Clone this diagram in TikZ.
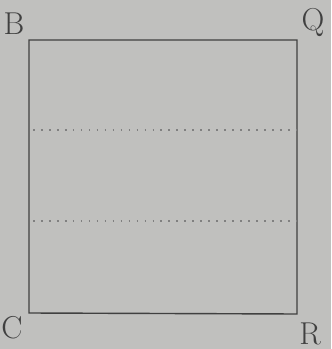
\documentclass[tikz,border=0pt]{standalone}
\begin{document}
\begin{tikzpicture}[x=0.03cm,y=-0.03cm,
  edge/.style={draw=black!75,line width=1.2pt},
  fold/.style={draw=black!50,line width=1.1pt,dash pattern=on 1.4pt off 5.4pt},
  lbl/.style={text=black!75,font=\fontsize{27}{30}\selectfont,inner sep=0pt}]
\useasboundingbox[fill={rgb,255:red,192;green,192;blue,190}] (0,0) rectangle (331,349);
\coordinate (B) at (29,40);
\coordinate (Q) at (297,40);
\coordinate (R) at (297,314);
\coordinate (C) at (29,313);
\draw[edge] (B) -- (Q) -- (R) -- (C) -- cycle;
\coordinate (f1l) at (33,130);
\coordinate (f1r) at (297,130);
\coordinate (f2l) at (33,221);
\coordinate (f2r) at (297,221);
\draw[fold] (f1l) -- (f1r);
\draw[fold] (f2l) -- (f2r);
\node[lbl] (lB) at (14,24) {B};
\node[lbl] (lQ) at (313,23) {Q};
\node[lbl] (lC) at (12,328) {C};
\node[lbl] (lR) at (310,334) {R};
\end{tikzpicture}
\end{document}
